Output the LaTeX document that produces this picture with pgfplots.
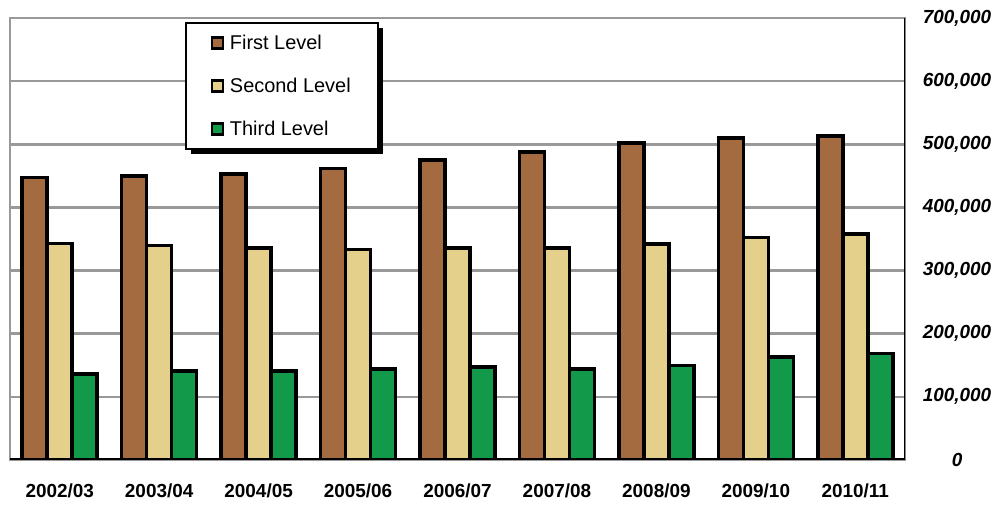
\documentclass[border=0pt]{standalone}
\usepackage{pgfplots}
\pgfplotsset{compat=1.18}
\usepackage{fontspec}
\setmainfont{Liberation Sans}
\usetikzlibrary{shadows}

\definecolor{firstc}{RGB}{164,106,64}
\definecolor{secondc}{RGB}{228,208,138}
\definecolor{thirdc}{RGB}{18,153,74}
\definecolor{gridc}{RGB}{153,153,153}

% the legend's drop shadow must not reach the small legend squares
\makeatletter
\tikzset{no preactions/.code={\let\tikz@preactions\pgfutil@empty}}
\makeatother

\begin{document}
\begin{tikzpicture}[x=1bp,y=1bp]
\path[use as bounding box] (0,0) rectangle (999,506);
\begin{axis}[
    at={(10bp,46bp)}, anchor=south west,
    scale only axis,
    width=895bp, height=442bp,
    ybar=0pt, bar width=25bp,
    xmin=-0.5, xmax=8.5,
    ymin=0, ymax=700000,
    xtick=data,
    xticklabels={2002/03,2003/04,2004/05,2005/06,2006/07,2007/08,2008/09,2009/10,2010/11},
    ytick={0,100000,...,700000},
    scaled y ticks=false,
    yticklabel pos=right,
    /pgf/number format/.cd, fixed, 1000 sep={,}, assume math mode=true,
    /pgfplots/.cd,
    major tick length=0pt,
    ymajorgrids,
    grid style={gridc, line width=2.5bp},
    axis line style={gridc, line width=2.5bp},
    yticklabel style={font=\fontsize{19}{21}\selectfont\bfseries\itshape, anchor=center, xshift=52bp},
    xticklabel style={font=\fontsize{19}{21}\selectfont\bfseries, yshift=-20bp},
    every axis plot/.append style={draw=black, line width=3.5bp},
    legend style={at={(0.1955,0.991)}, anchor=north west, draw=black, line width=2bp,
        fill=white, font=\fontsize{20}{22}\selectfont,
        drop shadow={shadow xshift=5bp, shadow yshift=-5bp, fill=black, opacity=1},
        inner xsep=25bp, inner ysep=10bp, row sep=23bp},
    legend cell align=left,
    legend image code/.code={
        \draw[no preactions, #1, line width=2.5bp] (0bp,-5.5bp) rectangle (11bp,5.5bp);
        \path[no preactions] (14bp,0bp);},
]
\addplot[fill=firstc] coordinates {(0,447000) (1,450000) (2,453000) (3,462000) (4,475000) (5,488000) (6,502000) (7,510000) (8,513000)};
\addplot[fill=secondc] coordinates {(0,343000) (1,340000) (2,336000) (3,333000) (4,336000) (5,336000) (6,342000) (7,352000) (8,358000)};
\addplot[fill=thirdc] coordinates {(0,136000) (1,141000) (2,141000) (3,144000) (4,147000) (5,144000) (6,150000) (7,163000) (8,169000)};
\legend{First Level, Second Level, Third Level}
\draw[black, line width=3bp] (rel axis cs:1,0) -- (rel axis cs:1,1);
\draw[black, line width=4bp] (rel axis cs:0,0) -- (rel axis cs:1,0);
\end{axis}
\end{tikzpicture}
\end{document}
